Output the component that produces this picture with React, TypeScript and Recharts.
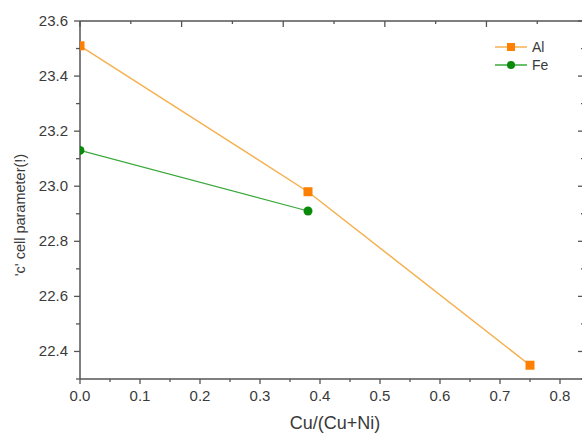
import React from 'react';
import { LineChart, Line, XAxis, YAxis, Legend } from 'recharts';

// Cu/(Cu+Ni) ratio vs 'c' cell parameter
const cuRatioAl = [0, 0.38, 0.75];
const cParamAl = [23.51, 22.98, 22.35];
const cuRatioFe = [0, 0.38];
const cParamFe = [23.13, 22.91];

const xTicks = [0, 0.05, 0.1, 0.15, 0.2, 0.25, 0.3, 0.35, 0.4, 0.45, 0.5, 0.55, 0.6, 0.65, 0.7, 0.75, 0.8];
const yTicks = [22.3, 22.4, 22.5, 22.6, 22.7, 22.8, 22.9, 23.0, 23.1, 23.2, 23.3, 23.4, 23.5, 23.6];
// the top frame axis of the original carries its own tick spacing
const topTicks = [0, 0.5, 1, 1.5, 2, 2.5, 3, 3.5, 4, 4.5];
const TOP_MAX = 4.96;

const alData = cuRatioAl.map((x, i) => ({ x, al: cParamAl[i] }));
const feData = cuRatioFe.map((x, i) => ({ x, fe: cParamFe[i] }));

const CHART_W = 605;
const LEFT_W = 80;
const RIGHT_W = 20;
const MARGIN_R = 1;
const PLOT_W = CHART_W - LEFT_W - RIGHT_W - MARGIN_R;

const AXIS = '#555';
const TEXT = '#3a3a3a';
const FONT = '"Liberation Sans", Arial, sans-serif';

const isMult = (v: number, step: number) => Math.abs(v / step - Math.round(v / step)) < 1e-6;

const BottomTick = (props: any) => {
  const { x, y, payload } = props;
  const major = isMult(payload.value, 0.1);
  return (
    <g>
      <line x1={x} x2={x} y1={y} y2={y + (major ? 5 : 3)} stroke={AXIS} strokeWidth={1.3} />
      {major && (
        <text x={x} y={y + 22} textAnchor="middle" fontSize={15} fill={TEXT} fontFamily={FONT}>
          {payload.value.toFixed(1)}
        </text>
      )}
    </g>
  );
};

// top frame (line + inward ticks) hung off the highest left tick
const TopFrame = ({ x, y }: { x: number; y: number }) => (
  <g>
    <line x1={x} x2={x + PLOT_W} y1={y} y2={y} stroke={AXIS} strokeWidth={1.5} />
    {topTicks.map((t) => {
      const tx = x + (t / TOP_MAX) * PLOT_W;
      return (
        <line key={t} x1={tx} x2={tx} y1={y} y2={y + (isMult(t, 1) ? 6 : 3)} stroke={AXIS} strokeWidth={1.3} />
      );
    })}
  </g>
);

const LeftTick = (props: any) => {
  const { x, y, payload } = props;
  const major = isMult(payload.value, 0.2);
  const isTop = payload.value === yTicks[yTicks.length - 1];
  return (
    <g>
      <line x1={x} x2={x - (major ? 6 : 4)} y1={y} y2={y} stroke={AXIS} strokeWidth={1.3} />
      {isTop && <TopFrame x={x} y={y} />}
      {major && (
        <text x={x - 12} y={y + 5} textAnchor="end" fontSize={15} fill={TEXT} fontFamily={FONT}>
          {payload.value.toFixed(1)}
        </text>
      )}
    </g>
  );
};

const RightTick = (props: any) => {
  const { x, y, payload } = props;
  const major = isMult(payload.value, 0.2);
  return <line x1={x} x2={x - (major ? 6 : 3)} y1={y} y2={y} stroke={AXIS} strokeWidth={1.3} />;
};

const SquareDot = (props: any) => {
  const { cx, cy } = props;
  return <rect x={cx - 4.5} y={cy - 4.5} width={9} height={9} fill="#ff8000" />;
};

const YTitle = (props: any) => {
  const { viewBox } = props;
  const cx = viewBox.x + 20;
  const cy = 215;
  return (
    <text
      transform={`translate(${cx},${cy}) rotate(-90)`}
      textAnchor="middle"
      dominantBaseline="central"
      fontSize={14.5}
      fill={TEXT}
      fontFamily={FONT}
    >
      'c' cell parameter(!)
    </text>
  );
};

const XTitle = (props: any) => {
  const { viewBox } = props;
  return (
    <text
      x={viewBox.x + viewBox.width / 2 + 3}
      y={viewBox.y + 50}
      textAnchor="middle"
      fontSize={18}
      fill={TEXT}
      fontFamily={FONT}
    >
      Cu/(Cu+Ni)
    </text>
  );
};

const LegendBox = () => (
  <svg width={80} height={40}>
    <line x1={5} x2={37} y1={9} y2={9} stroke="#f5b04f" strokeWidth={1.5} />
    <rect x={17} y={5} width={8} height={8} fill="#ff8000" />
    <text x={42} y={14} fontSize={14} fill={TEXT} fontFamily={FONT}>Al</text>
    <line x1={5} x2={37} y1={27} y2={27} stroke="#3aa83a" strokeWidth={1.5} />
    <circle cx={21} cy={27} r={4} fill="#0a8a0a" />
    <text x={42} y={32} fontSize={14} fill={TEXT} fontFamily={FONT}>Fe</text>
  </svg>
);

export default function App() {
  return (
    <div style={{ position: 'fixed', top: 0, left: 0, width: 582, height: 434, overflow: 'hidden', background: '#fff' }}>
      <LineChart width={CHART_W} height={434} margin={{ top: 21, right: MARGIN_R, bottom: 0, left: 0 }}>
        <XAxis
          dataKey="x"
          type="number"
          domain={[0, 0.84]}
          ticks={xTicks}
          interval={0}
          allowDataOverflow
          height={55}
          axisLine={{ stroke: AXIS, strokeWidth: 1.5 }}
          tickLine={false}
          tickSize={0}
          tickMargin={0}
          tick={<BottomTick />}
          label={{ content: <XTitle /> }}
        />
        <YAxis
          type="number"
          domain={[22.3, 23.6]}
          ticks={yTicks}
          interval={0}
          allowDataOverflow
          width={LEFT_W}
          axisLine={{ stroke: AXIS, strokeWidth: 1.5 }}
          tickLine={false}
          tickSize={0}
          tickMargin={0}
          tick={<LeftTick />}
          label={{ content: <YTitle /> }}
        />
        <YAxis
          yAxisId="right"
          orientation="right"
          type="number"
          domain={[22.3, 23.6]}
          ticks={yTicks}
          interval={0}
          allowDataOverflow
          width={RIGHT_W}
          axisLine={{ stroke: AXIS, strokeWidth: 1.5 }}
          tickLine={false}
          tickSize={0}
          tickMargin={0}
          tick={<RightTick />}
        />
        <Legend
          verticalAlign="middle"
          align="center"
          layout="horizontal"
          content={<LegendBox />}
          wrapperStyle={{ position: 'absolute', left: 490, top: 38, width: 80 }}
        />
        {/* invisible carrier so the mirrored right axis gets drawn */}
        <Line
          data={feData}
          dataKey="fe"
          yAxisId="right"
          stroke="none"
          dot={false}
          activeDot={false}
          legendType="none"
          isAnimationActive={false}
        />
        <Line
          data={alData}
          dataKey="al"
          name="Al"
          type="linear"
          stroke="#f5b04f"
          strokeWidth={1.5}
          dot={<SquareDot />}
          isAnimationActive={false}
        />
        <Line
          data={feData}
          dataKey="fe"
          name="Fe"
          type="linear"
          stroke="#3aa83a"
          strokeWidth={1.2}
          dot={{ r: 4.5, fill: '#0a8a0a', stroke: 'none' }}
          isAnimationActive={false}
        />
      </LineChart>
    </div>
  );
}
